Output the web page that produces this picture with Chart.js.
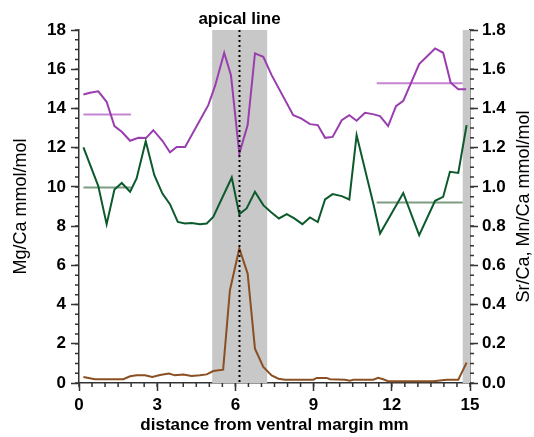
<!DOCTYPE html>
<html>
<head>
<meta charset="utf-8">
<script src="https://cdn.jsdelivr.net/npm/chart.js@4.4.1/dist/chart.umd.min.js"></script>
<style>
  html, body { margin: 0; padding: 0; background: #fff; }
  #wrap { width: 534px; height: 437px; }
</style>
</head>
<body>
<div id="wrap"><canvas id="profileChart" width="534" height="437"></canvas></div>
<script>
// distance from ventral margin (mm) and element ratios
const mgDist = [0.17, 0.42, 0.74, 1.06, 1.36, 1.64, 1.96, 2.28, 2.57, 2.85, 3.20, 3.49, 3.75, 4.07,
    4.96, 5.22, 5.57, 5.83, 6.15, 6.47, 6.75, 7.07, 7.39, 8.22, 8.52, 8.86, 9.16, 9.44, 9.73,
    10.08, 10.37, 10.65, 10.97, 11.27, 11.55, 11.86, 12.16, 12.44, 13.05, 13.66, 13.97, 14.26, 14.55, 14.85];
const mgCa = [14.71, 14.80, 14.87, 14.34, 13.10, 12.81, 12.35, 12.50, 12.49, 12.89, 12.35, 11.76, 12.04, 12.04,
    14.17, 15.15, 16.84, 15.70, 11.70, 13.15, 16.81, 16.63, 15.70, 13.66, 13.49, 13.20, 13.15, 12.50, 12.55,
    13.40, 13.66, 13.37, 13.78, 13.71, 13.61, 13.10, 14.12, 14.39, 16.26, 17.06, 16.84, 15.31, 14.98, 14.98];

const srDist = [0.17, 0.74, 1.06, 1.36, 1.64, 1.96, 2.21, 2.56, 2.89, 3.20, 3.49, 3.79, 4.07, 4.32, 4.64,
    4.90, 5.15, 5.86, 6.15, 6.43, 6.75, 7.07, 7.36, 7.67, 7.97, 8.26, 8.57, 8.86, 9.16, 9.44, 9.73,
    10.08, 10.37, 10.65, 11.29, 11.55, 12.44, 13.05, 13.66, 13.97, 14.23, 14.55, 14.87];
const srCa = [1.201, 1.004, 0.810, 0.987, 1.020, 0.975, 1.043, 1.233, 1.060, 0.966, 0.912, 0.821, 0.813, 0.816, 0.810,
    0.813, 0.847, 1.048, 0.861, 0.890, 0.975, 0.907, 0.872, 0.839, 0.861, 0.839, 0.810, 0.844, 0.821, 0.936, 0.963,
    0.953, 0.936, 1.264, 0.915, 0.762, 0.969, 0.754, 0.929, 0.949, 1.077, 1.071, 1.315];

const mnDist = [0.17, 0.61, 1.70, 1.96, 2.21, 2.53, 2.81, 3.11, 3.45, 3.68, 4.00, 4.32, 4.64, 4.90, 5.15,
    5.53, 5.79, 6.15, 6.47, 6.75, 7.07, 7.39, 7.65, 7.90, 8.99, 9.12, 9.50, 9.63, 10.20, 10.40, 10.52,
    11.29, 11.48, 11.67, 11.86, 13.59, 14.10, 14.55, 14.87];
const mnCa = [0.031, 0.019, 0.019, 0.034, 0.039, 0.039, 0.031, 0.041, 0.048, 0.039, 0.043, 0.036, 0.039, 0.044, 0.061,
    0.068, 0.473, 0.686, 0.558, 0.175, 0.082, 0.039, 0.022, 0.017, 0.017, 0.026, 0.026, 0.019, 0.017, 0.012, 0.017,
    0.017, 0.026, 0.019, 0.009, 0.009, 0.017, 0.017, 0.104];

// mean values over the first and last section
const meanSpans = [[0.17, 1.99], [11.42, 14.72]];
const mgMeans = [13.69, 15.28];
const srMeans = [0.997, 0.920];

// shaded sections and apical line position (mm)
const shadeFrom = [5.11, 14.72];
const shadeTo = [7.22, 15.0];
const apicalLine = 6.15;

const xTicks = [0, 3, 6, 9, 12, 15];

const FONT = "'Liberation Sans', Arial, sans-serif";
const AXIS = '#333';

function pairs(xs, ys) {
    return xs.map((x, i) => ({ x: x, y: ys[i] }));
}

function meanLine(span, value) {
    return [{ x: span[0], y: value }, { x: span[1], y: value }];
}

const decor = {
    id: 'decor',
    beforeDatasetsDraw(chart) {
        const ctx = chart.ctx;
        const xs = chart.scales.x;
        const area = chart.chartArea;
        ctx.save();
        ctx.fillStyle = '#c8c8c8';
        shadeFrom.forEach((from, i) => {
            const x0 = xs.getPixelForValue(from);
            const x1 = xs.getPixelForValue(shadeTo[i]);
            ctx.fillRect(x0, area.top, x1 - x0, area.bottom - area.top);
        });
        ctx.restore();
    },
    afterDraw(chart) {
        const ctx = chart.ctx;
        const xs = chart.scales.x;
        const yl = chart.scales.y;
        const yr = chart.scales.y2;
        const area = chart.chartArea;
        ctx.save();

        // apical line
        const ax = Math.round(xs.getPixelForValue(apicalLine)) + 0.5;
        ctx.strokeStyle = '#000';
        ctx.lineWidth = 2;
        ctx.setLineDash([2, 3]);
        ctx.beginPath();
        ctx.moveTo(ax, area.top);
        ctx.lineTo(ax, area.bottom);
        ctx.stroke();
        ctx.setLineDash([]);

        // minor ticks
        ctx.strokeStyle = AXIS;
        ctx.lineWidth = 1.5;
        ctx.beginPath();
        for (let v = 0; v <= 15.001; v += 0.5) {
            const p = xs.getPixelForValue(v);
            ctx.moveTo(p, area.bottom);
            ctx.lineTo(p, area.bottom + 4);
        }
        for (let v = 0; v <= 18.001; v += 0.5) {
            const p = yl.getPixelForValue(v);
            ctx.moveTo(area.left, p);
            ctx.lineTo(area.left - 4, p);
        }
        for (let v = 0; v <= 1.8001; v += 0.05) {
            const p = yr.getPixelForValue(v);
            ctx.moveTo(area.right, p);
            ctx.lineTo(area.right + 4, p);
        }
        ctx.stroke();

        // titles
        ctx.fillStyle = '#000';
        ctx.textAlign = 'center';
        ctx.textBaseline = 'alphabetic';
        ctx.font = 'bold 17px ' + FONT;
        ctx.fillText('apical line', ax, 24);
        ctx.fillText('distance from ventral margin mm', (area.left + area.right) / 2, 430);

        ctx.font = '18px ' + FONT;
        ctx.textBaseline = 'middle';
        ctx.save();
        ctx.translate(21, (area.top + area.bottom) / 2);
        ctx.rotate(-Math.PI / 2);
        ctx.fillText('Mg/Ca mmol/mol', 0, 0);
        ctx.restore();
        ctx.save();
        ctx.translate(524, (area.top + area.bottom) / 2);
        ctx.rotate(-Math.PI / 2);
        ctx.fillText('Sr/Ca, Mn/Ca mmol/mol', 0, 0);
        ctx.restore();

        ctx.restore();
    }
};

function axisStyle() {
    return {
        grid: { drawOnChartArea: false, drawTicks: true, tickLength: 8, tickColor: AXIS, tickWidth: 1.5 },
        border: { display: true, color: AXIS, width: 1.5 }
    };
}

document.addEventListener('DOMContentLoaded', function() {
    const ctx = document.getElementById('profileChart');
    new Chart(ctx, {
        type: 'line',
        data: {
            datasets: [
                { label: 'Mg/Ca', data: pairs(mgDist, mgCa), yAxisID: 'y', borderColor: '#9a3dae', borderWidth: 2, pointRadius: 0, tension: 0 },
                { label: 'Sr/Ca', data: pairs(srDist, srCa), yAxisID: 'y2', borderColor: '#0c5a2c', borderWidth: 2, pointRadius: 0, tension: 0 },
                { label: 'Mn/Ca', data: pairs(mnDist, mnCa), yAxisID: 'y2', borderColor: '#8a4f22', borderWidth: 2, pointRadius: 0, tension: 0 },
                { label: 'Mg/Ca mean 1', data: meanLine(meanSpans[0], mgMeans[0]), yAxisID: 'y', borderColor: '#c585d2', borderWidth: 2, pointRadius: 0 },
                { label: 'Mg/Ca mean 2', data: meanLine(meanSpans[1], mgMeans[1]), yAxisID: 'y', borderColor: '#c585d2', borderWidth: 2, pointRadius: 0 },
                { label: 'Sr/Ca mean 1', data: meanLine(meanSpans[0], srMeans[0]), yAxisID: 'y2', borderColor: '#7d9c80', borderWidth: 2, pointRadius: 0 },
                { label: 'Sr/Ca mean 2', data: meanLine(meanSpans[1], srMeans[1]), yAxisID: 'y2', borderColor: '#7d9c80', borderWidth: 2, pointRadius: 0 }
            ]
        },
        options: {
            responsive: false,
            animation: false,
            devicePixelRatio: 1,
            layout: { padding: { top: 30, left: 0, right: 0, bottom: 0 } },
            plugins: {
                legend: { display: false },
                tooltip: { enabled: false },
                title: { display: false }
            },
            scales: {
                x: Object.assign(axisStyle(), {
                    type: 'linear',
                    min: 0,
                    max: 15,
                    afterBuildTicks: function(scale) {
                        scale.ticks = xTicks.map(v => ({ value: v }));
                    },
                    ticks: { font: { family: FONT, size: 17, weight: 'bold' }, color: '#000', padding: 4, maxRotation: 0 },
                    afterFit: function(scale) { scale.height = 54; }
                }),
                y: Object.assign(axisStyle(), {
                    position: 'left',
                    min: 0,
                    max: 18,
                    ticks: { stepSize: 2, font: { family: FONT, size: 17, weight: 'bold' }, color: '#000', padding: 5 },
                    afterFit: function(scale) { scale.width = 79; }
                }),
                y2: Object.assign(axisStyle(), {
                    position: 'right',
                    min: 0,
                    max: 1.8,
                    ticks: {
                        stepSize: 0.2,
                        font: { family: FONT, size: 17, weight: 'bold' },
                        color: '#000',
                        padding: 4,
                        callback: function(value) { return value.toFixed(1); }
                    },
                    afterFit: function(scale) { scale.width = 64; }
                })
            }
        },
        plugins: [decor]
    });
});
</script>
</body>
</html>
